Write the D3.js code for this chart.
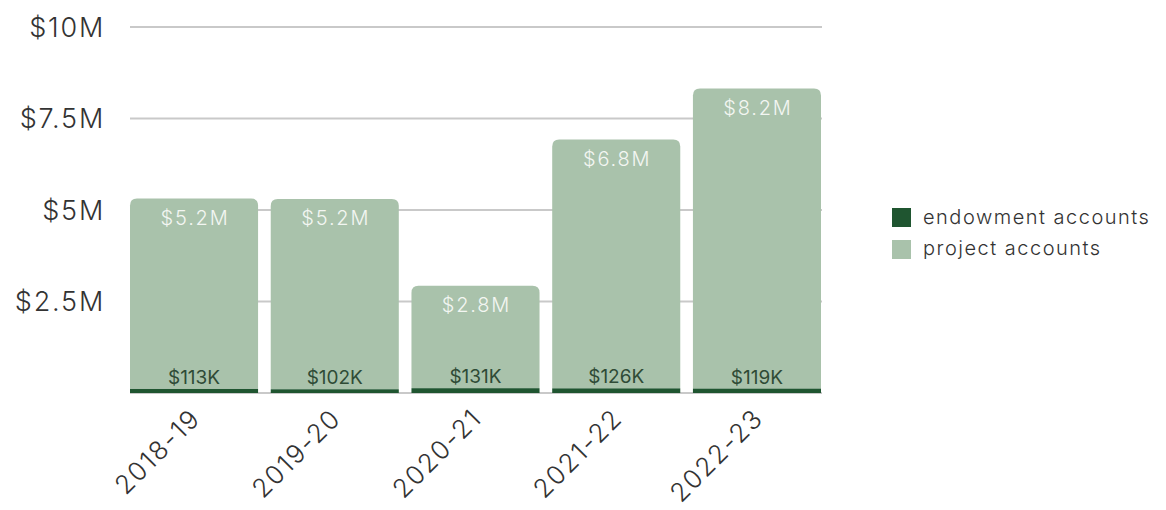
<!DOCTYPE html>
<html>
<head>
<meta charset="utf-8">
<script src="https://cdn.jsdelivr.net/npm/d3@7"></script>
<style>
  html, body { margin: 0; padding: 0; background: #ffffff; }
  svg { display: block; font-family: Inter, "Noto Sans", sans-serif; font-weight: 300; }
</style>
</head>
<body>
<svg id="chart" width="1166" height="510"></svg>
<script>
// Fiscal years shown along the x axis
const years = ["2018-19", "2019-20", "2020-21", "2021-22", "2022-23"];
// Balances in dollars
const endowment = [113000, 102000, 131000, 126000, 119000];
const project = [5200000, 5200000, 2800000, 6800000, 8200000];
const endowmentLabels = ["$113K", "$102K", "$131K", "$126K", "$119K"];
const projectLabels = ["$5.2M", "$5.2M", "$2.8M", "$6.8M", "$8.2M"];
// Y axis ticks
const yTicks = [2500000, 5000000, 7500000, 10000000];
const yTickLabels = ["$2.5M", "$5M", "$7.5M", "$10M"];
const seriesNames = ["endowment accounts", "project accounts"];

const colors = { endowment: "#1f5530", project: "#a9c2ab" };

const svg = d3.select("#chart");
const x = d3.scaleBand().domain(years).range([130, 821]).paddingInner(0.09).paddingOuter(0);
const y = d3.scaleLinear().domain([0, 10000000]).range([393, 27]);

// Horizontal gridlines
svg.append("g").selectAll("line")
  .data([0].concat(yTicks))
  .join("line")
  .attr("x1", 130).attr("x2", 822)
  .attr("y1", d => y(d)).attr("y2", d => y(d))
  .attr("stroke", "#c9c9c9").attr("stroke-width", 2);

// Y axis labels
svg.append("g").selectAll("text")
  .data(yTicks)
  .join("text")
  .attr("x", 105).attr("y", d => y(d))
  .attr("dy", "0.36em")
  .attr("text-anchor", "end")
  .attr("font-size", 27)
  .attr("letter-spacing", 1.8)
  .attr("fill", "#333")
  .text((d, i) => yTickLabels[i]);

// Rounded-top rectangle path
function topRounded(x0, y0, w, h, r) {
  r = Math.min(r, h, w / 2);
  return `M${x0},${y0 + h}V${y0 + r}Q${x0},${y0} ${x0 + r},${y0}H${x0 + w - r}Q${x0 + w},${y0} ${x0 + w},${y0 + r}V${y0 + h}Z`;
}

const bars = svg.append("g");
years.forEach((yr, i) => {
  const bx = x(yr), bw = x.bandwidth();
  const e = endowment[i], p = project[i];
  // project accounts stacked on top of endowment
  bars.append("path")
    .attr("d", topRounded(bx, y(e + p), bw, y(e) - y(e + p), 7))
    .attr("fill", colors.project);
  bars.append("rect")
    .attr("x", bx).attr("y", y(e))
    .attr("width", bw).attr("height", y(0) - y(e))
    .attr("fill", colors.endowment);
  // value labels
  bars.append("text")
    .attr("x", bx + bw / 2 + 1).attr("y", y(e + p) + 26)
    .attr("text-anchor", "middle")
    .attr("font-size", 20)
    .attr("letter-spacing", 1.8)
    .attr("fill", "#f3f6f2")
    .text(projectLabels[i]);
  bars.append("text")
    .attr("x", bx + bw / 2).attr("y", y(e) - 5)
    .attr("text-anchor", "middle")
    .attr("font-size", 19)
    .attr("font-weight", 400)
    .attr("fill", "#2f4b36")
    .text(endowmentLabels[i]);
});

// X axis labels, rotated
svg.append("g").selectAll("text")
  .data(years)
  .join("text")
  .attr("transform", d => `translate(${x(d) + x.bandwidth() / 2 - 5},${407}) rotate(-45)`)
  .attr("text-anchor", "end")
  .attr("dy", "0.7em")
  .attr("font-size", 26)
  .attr("letter-spacing", 1.7)
  .attr("fill", "#333")
  .text(d => d);

// Legend
const legend = svg.append("g").attr("transform", "translate(892,208)");
[colors.endowment, colors.project].forEach((c, i) => {
  legend.append("rect")
    .attr("x", 0).attr("y", i * 32)
    .attr("width", 19).attr("height", 19)
    .attr("fill", c);
  legend.append("text")
    .attr("x", 31).attr("y", i * 31 + 9)
    .attr("dy", "0.35em")
    .attr("font-size", 20)
    .attr("letter-spacing", 1.5)
    .attr("fill", "#333")
    .text(seriesNames[i]);
});
</script>
</body>
</html>
